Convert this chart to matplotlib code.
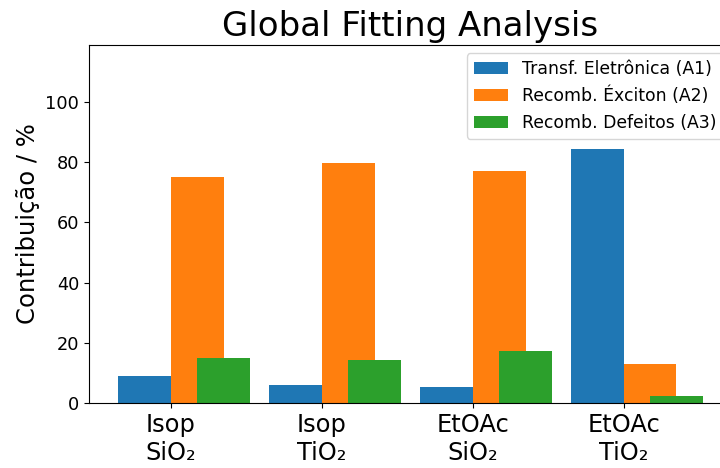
import numpy as np
import matplotlib
matplotlib.use("Agg")
import matplotlib.pyplot as plt

# Sample / solvent combinations
samples = ["Isop\nSiO₂", "Isop\nTiO₂", "EtOAc\nSiO₂", "EtOAc\nTiO₂"]

# Relative amplitude of each decay component (%)
a1_transfer = [9.0, 6.1, 5.4, 84.4]
a2_exciton = [75.1, 79.6, 77.2, 13.05]
a3_defects = [14.95, 14.2, 17.3, 2.5]

series_labels = ["Transf. Eletrônica (A1)", "Recomb. Éxciton (A2)", "Recomb. Defeitos (A3)"]

fig = plt.figure(figsize=(7.2, 4.68), dpi=100)
ax = fig.add_axes([0.1236, 0.1383, 0.8931, 0.7662])

x = np.arange(len(samples))
width = 0.35

ax.bar(x - width / 2, a1_transfer, width, label=series_labels[0], color="#1f77b4")
ax.bar(x + width / 2, a2_exciton, width, label=series_labels[1], color="#ff7f0e")
ax.bar(x + width, a3_defects, width, label=series_labels[2], color="#2ca02c")

ax.set_ylim(0, 119)
ax.set_xticks(x)
ax.set_xticklabels(samples, fontsize=17.4)
ax.tick_params(axis="y", labelsize=12.8)
ax.set_ylabel("Contribuição / %", fontsize=17.5)
ax.set_title("Global Fitting Analysis", fontsize=24.5)
ax.legend(loc="upper right", fontsize=12.4)

fig.savefig("out.png", dpi=100)
